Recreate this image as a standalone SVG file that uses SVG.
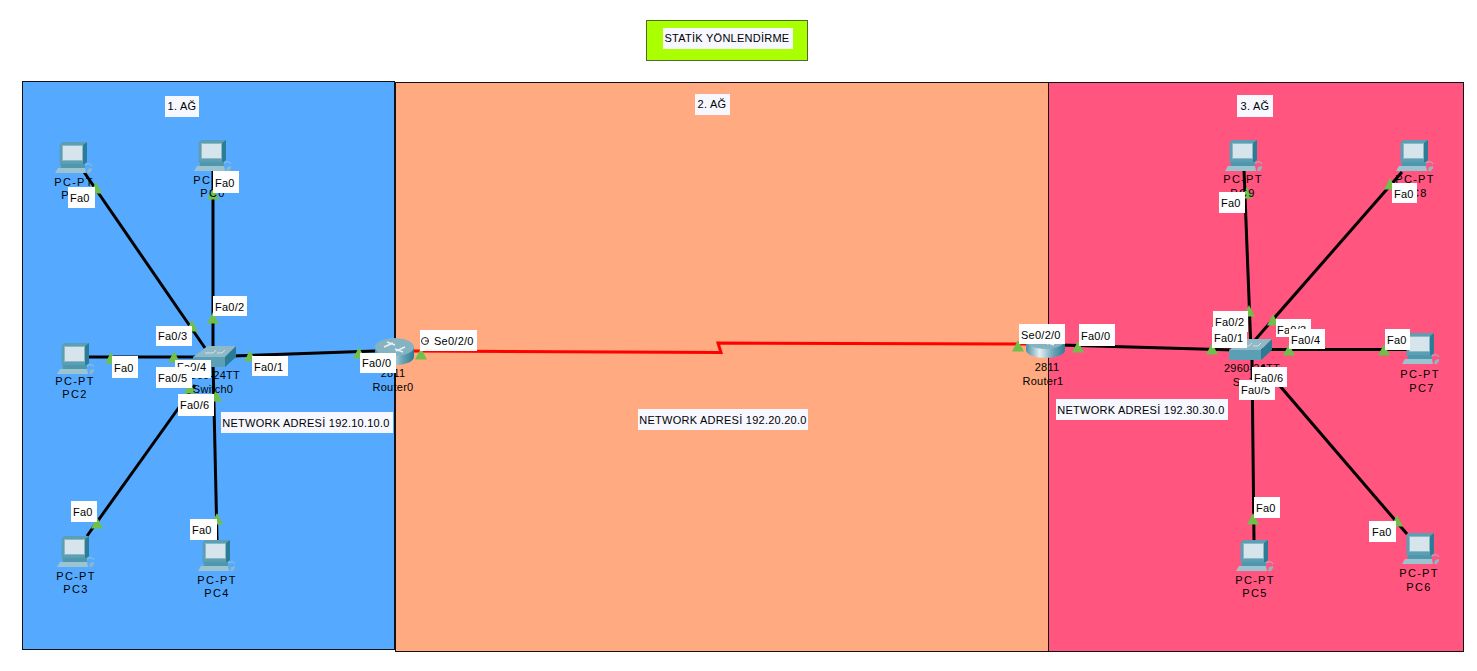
<svg xmlns="http://www.w3.org/2000/svg" width="1477" height="671" viewBox="0 0 1477 671">
<style>
text{font-family:"Liberation Sans",Arial,sans-serif;font-size:11px;fill:#000;letter-spacing:.25px}
.c{text-anchor:middle}
text.dev{letter-spacing:1.300px}
.zone{stroke:#111;stroke-width:1}
.lbl{fill:#fff}
.net{fill:#f6f7ff}
.link{fill:none;stroke:#000;stroke-width:3}
.serial{fill:none;stroke:#f00;stroke-width:3}
.tri{fill:#6fbf4a}
</style>
<defs>
<linearGradient id="cyl" x1="0" x2="1" y1="0" y2="0"><stop offset="0" stop-color="#4d8ea3"/><stop offset=".35" stop-color="#e4eff2"/><stop offset=".7" stop-color="#6aa5b8"/><stop offset="1" stop-color="#2f7b93"/></linearGradient>
<g id="pc">
<polygon points="4.500,3 7,0 32,0 32,20 28,23 4.500,23" fill="#5b9fb5"/>
<polygon points="28,3 32,0 32,20 28,23" fill="#2a7c97"/>
<rect x="7.500" y="3.500" width="20" height="15" fill="#d6e5eb" stroke="#8fb6c4"/>
<rect x="6" y="22" width="24" height="4" fill="#4f97ad"/>
<polygon points="3,26 30,26 31,31 0,31" fill="#9cc4d0"/>
<polygon points="33,27 37,26 37,28 35,31 32,31" fill="#8db8c6"/>
<path d="M30 23 q5 -3 7 1" fill="none" stroke="#9cc4d0"/>
</g>
<g id="sw">
<polygon points="15,0 43,0 32,11 0,11" fill="#8fb9c6"/>
<polygon points="0,11 32,11 32,21 0,21" fill="#5b9fb5"/>
<polygon points="32,11 43,0 43,11 32,21" fill="#2b7b94"/>
<path d="M12 7h8l3-3M24 7h5l3-3" fill="none" stroke="#cfe2e8"/>
</g>
<g id="rt">
<path d="M0 9V19A19.500 8 0 0 0 39 19V9Z" fill="url(#cyl)"/>
<ellipse cx="19.500" cy="9" rx="19.500" ry="9" fill="#86b3c1"/>
<path d="M9 9l9 -4M21 13l9 -4M12 4l8 3M20 11l8 3" fill="none" stroke="#e8f2f5" stroke-width="1.400"/>
</g>
<polygon id="t" points="0,0 6,11.500 -6,11.500" class="tri"/>
</defs>

<rect width="1477" height="671" fill="#fff"/>
<g id="zones">
<rect class="zone" x="22.500" y="81.500" width="372" height="568" fill="#55aaff"/>
<rect class="zone" x="395.500" y="82.500" width="653" height="569" fill="#ffaa80"/>
<rect class="zone" x="1048.500" y="82.500" width="415" height="569" fill="#ff557f"/>
</g>

<g id="connectors">
<path class="link" d="M84 172L205 348"/>
<path class="link" d="M213 170V350"/>
<path class="link" d="M88 357H200"/>
<path class="link" d="M87 536L195 385"/>
<path class="link" d="M217 540L213 360"/>
<path class="link" d="M232 356L375 351"/>
<path class="serial" d="M413 351L721 352.500L718 343L1030 344"/>
<path class="link" d="M1060 345L1235 350"/>
<path class="link" d="M1244 170L1251 350"/>
<path class="link" d="M1254 540L1252 360"/>
<path class="link" d="M1402 172L1255 340"/>
<path class="link" d="M1407 534L1262 365"/>
<path class="link" d="M1415 349.500H1260"/>
<use href="#t" x="96" y="182"/><use href="#t" x="213" y="188"/><use href="#t" x="213" y="312"/>
<use href="#t" x="192" y="320"/><use href="#t" x="111" y="352"/><use href="#t" x="174" y="351"/>
<use href="#t" x="250" y="350"/><use href="#t" x="359" y="347"/><use href="#t" x="421" y="348"/>
<use href="#t" x="190" y="382"/><use href="#t" x="216" y="390"/><use href="#t" x="97" y="517"/><use href="#t" x="217" y="513"/>
<use href="#t" x="1018" y="340"/><use href="#t" x="1078" y="341"/><use href="#t" x="1212" y="343"/>
<use href="#t" x="1249" y="305"/><use href="#t" x="1273" y="314"/><use href="#t" x="1289" y="344"/>
<use href="#t" x="1247" y="187"/><use href="#t" x="1390" y="178"/><use href="#t" x="1384" y="344"/>
<use href="#t" x="1253" y="513"/><use href="#t" x="1397" y="515"/>
</g>

<g id="PC1"><use href="#pc" x="55" y="142"/><text class="dev c" x="74" y="186">PC-PT</text><text class="dev c" x="74" y="199">PC1</text></g>
<g id="PC0"><use href="#pc" x="194" y="140"/><text class="dev c" x="213" y="184">PC-PT</text><text class="dev c" x="213" y="197">PC0</text></g>
<g id="PC2"><use href="#pc" x="57" y="343"/><text class="dev c" x="75" y="385">PC-PT</text><text class="dev c" x="75" y="398">PC2</text></g>
<g id="PC3"><use href="#pc" x="57" y="536"/><text class="dev c" x="76" y="580">PC-PT</text><text class="dev c" x="76" y="593">PC3</text></g>
<g id="PC4"><use href="#pc" x="198" y="540"/><text class="dev c" x="217" y="584">PC-PT</text><text class="dev c" x="217" y="597">PC4</text></g>
<g id="PC5"><use href="#pc" x="1236" y="540"/><text class="dev c" x="1255" y="584">PC-PT</text><text class="dev c" x="1255" y="597">PC5</text></g>
<g id="PC6"><use href="#pc" x="1402" y="533"/><text class="dev c" x="1419" y="577">PC-PT</text><text class="dev c" x="1419" y="591">PC6</text></g>
<g id="PC7"><use href="#pc" x="1402" y="333"/><text class="dev c" x="1420" y="378">PC-PT</text><text class="dev c" x="1422" y="392">PC7</text></g>
<g id="PC8"><use href="#pc" x="1396" y="140"/><text class="dev c" x="1415" y="183">PC-PT</text><text class="dev c" x="1415" y="197">PC8</text></g>
<g id="PC9"><use href="#pc" x="1225" y="140"/><text class="dev c" x="1243" y="183">PC-PT</text><text class="dev c" x="1243" y="197">PC9</text></g>
<g id="Switch0"><use href="#sw" x="193" y="346"/><text class="c" x="212" y="379">2960-24TT</text><text class="c" x="213" y="393">Switch0</text></g>
<g id="Switch1"><use href="#sw" x="1229" y="339"/><text class="c" x="1252" y="372">2960-24TT</text><text class="c" x="1253" y="386">Switch1</text></g>
<g id="Router0"><use href="#rt" x="375" y="338"/><text class="c" x="393" y="377">2811</text><text class="c" x="393" y="391">Router0</text></g>
<g id="Router1"><use href="#rt" x="1026" y="331"/><text class="c" x="1047" y="371">2811</text><text class="c" x="1043" y="385">Router1</text></g>

<g id="port-labels">
<rect class="lbl" x="68" y="187" width="27" height="21"/><text x="70" y="202">Fa0</text>
<rect class="lbl" x="213" y="171" width="26" height="22"/><text x="215" y="187">Fa0</text>
<rect class="lbl" x="213" y="296" width="34" height="20"/><text x="215" y="311">Fa0/2</text>
<rect class="lbl" x="156" y="326" width="36" height="20"/><text x="158" y="340">Fa0/3</text>
<rect class="lbl" x="112" y="356" width="26" height="22"/><text x="114" y="372">Fa0</text>
<rect class="lbl" x="175" y="360" width="36" height="18"/><text x="177" y="371">Fa0/4</text>
<rect class="lbl" x="156" y="367" width="36" height="21"/><text x="158" y="382">Fa0/5</text>
<rect class="lbl" x="178" y="394" width="36" height="22"/><text x="180" y="409">Fa0/6</text>
<rect class="lbl" x="252" y="356" width="36" height="20"/><text x="254" y="371">Fa0/1</text>
<rect class="lbl" x="360" y="353" width="36" height="20"/><text x="362" y="367">Fa0/0</text>
<rect class="lbl" x="420" y="330" width="57" height="21"/><circle cx="425" cy="341" r="3.500" fill="none" stroke="#222"/><path d="M425 341h3" stroke="#222"/><text x="434" y="345">Se0/2/0</text>
<rect class="lbl" x="71" y="501" width="26" height="21"/><text x="73" y="516">Fa0</text>
<rect class="lbl" x="190" y="519" width="27" height="21"/><text x="192" y="534">Fa0</text>
<rect class="lbl" x="1019" y="324" width="46" height="20"/><text x="1021" y="339">Se0/2/0</text>
<rect class="lbl" x="1079" y="324" width="36" height="22"/><text x="1081" y="340">Fa0/0</text>
<rect class="lbl" x="1213" y="311" width="35" height="21"/><text x="1215" y="326">Fa0/2</text>
<rect class="lbl" x="1212" y="327" width="35" height="21"/><text x="1214" y="342">Fa0/1</text>
<rect class="lbl" x="1276" y="319" width="35" height="18"/><text x="1277" y="334">Fa0/3</text>
<rect class="lbl" x="1289" y="329" width="36" height="20"/><text x="1291" y="344">Fa0/4</text>
<rect class="lbl" x="1239" y="380" width="36" height="20"/><text x="1241" y="394">Fa0/5</text>
<rect class="lbl" x="1252" y="367" width="35" height="20"/><text x="1254" y="382">Fa0/6</text>
<rect class="lbl" x="1219" y="192" width="26" height="21"/><text x="1221" y="207">Fa0</text>
<rect class="lbl" x="1392" y="183" width="25" height="20"/><text x="1394" y="198">Fa0</text>
<rect class="lbl" x="1385" y="329" width="25" height="21"/><text x="1387" y="344">Fa0</text>
<rect class="lbl" x="1254" y="497" width="26" height="21"/><text x="1256" y="512">Fa0</text>
<rect class="lbl" x="1369" y="521" width="27" height="21"/><text x="1372" y="536">Fa0</text>
</g>

<g id="notes">
<g id="title"><rect x="646.500" y="20.500" width="161" height="40" fill="#aaff00" stroke="#4f6b2a"/><rect x="663" y="28" width="130" height="21" fill="#f6f7ff"/><text class="c" x="727" y="42">STATİK YÖNLENDİRME</text></g>
<rect class="net" x="165" y="96" width="34" height="21"/><text class="c" x="182" y="110">1. AĞ</text>
<rect class="net" x="695" y="94" width="35" height="21"/><text class="c" x="712" y="108">2. AĞ</text>
<rect class="net" x="1237" y="95" width="36" height="22"/><text class="c" x="1255" y="110">3. AĞ</text>
<rect class="net" x="221" y="412" width="172" height="21"/><text class="c" x="306" y="427">NETWORK ADRESİ 192.10.10.0</text>
<rect class="net" x="638" y="409" width="170" height="21"/><text class="c" x="723" y="424">NETWORK ADRESİ 192.20.20.0</text>
<rect class="net" x="1056" y="399" width="172" height="21"/><text class="c" x="1141" y="414">NETWORK ADRESİ 192.30.30.0</text>
</g>
</svg>
